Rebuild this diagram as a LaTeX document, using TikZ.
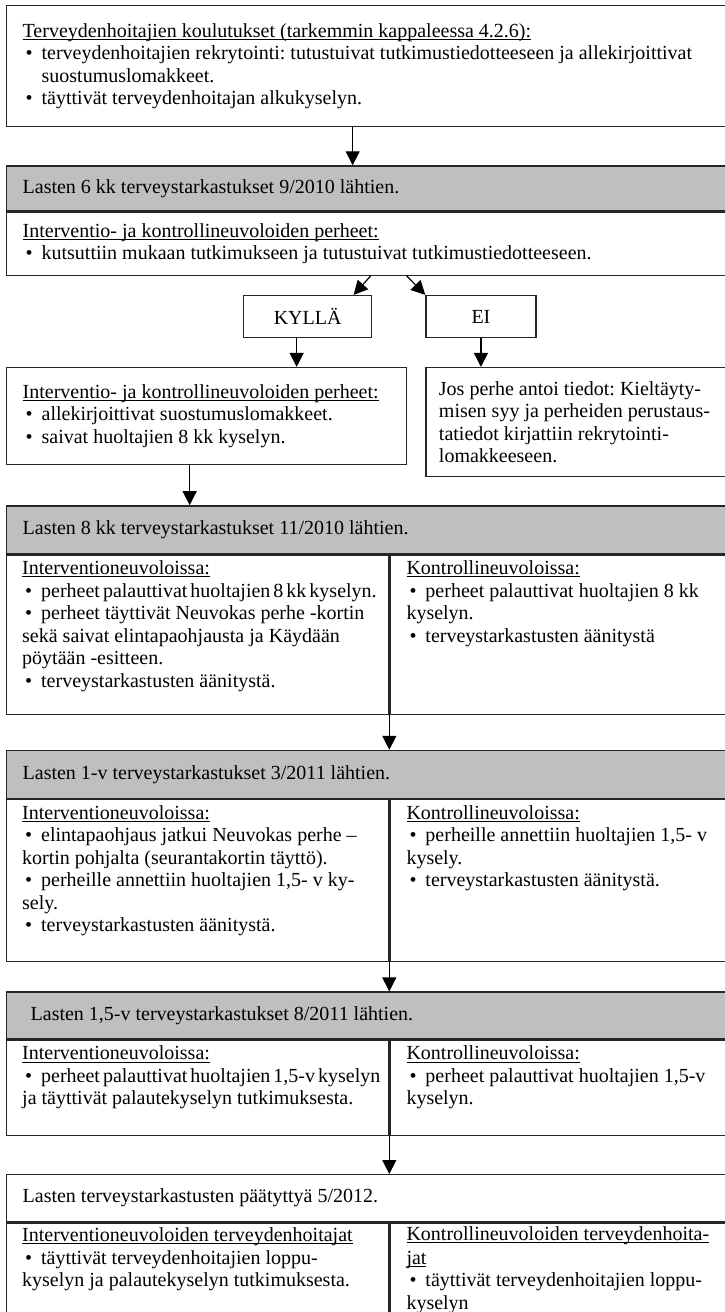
\documentclass[tikz,border=0pt]{standalone}
\usepackage{fontspec}
\setmainfont{Liberation Serif}
\usetikzlibrary{positioning, arrows.meta}

\newcommand{\bodyfont}{\fontsize{20}{22.5}\selectfont\frenchspacing}
\newcommand{\itm}{\makebox[19pt][l]{\hspace{3pt}\textbullet}}
\newcommand{\hang}{\hspace*{19pt}}
\newcommand{\uln}[1]{\leavevmode\setbox0\hbox{#1}\rlap{\rule[-2.6pt]{\wd0}{0.9pt}}\box0}
\newcommand{\squeeze}[1]{{\spaceskip=3pt plus 1pt\relax #1}}

\begin{document}
\begin{tikzpicture}[x=1pt, y=1pt,
    box/.style = {draw=black!85, line width=1.3pt, anchor=north west, align=flush left, inner xsep=16pt, inner ysep=0pt, font=\bodyfont},
    head/.style = {box, fill=gray!50, text width=722pt, minimum height=48pt},
    choice/.style = {draw=black!85, line width=1.3pt, anchor=north west, minimum height=42pt, align=center, font=\bodyfont},
    frame/.style = {draw=black!85, line width=1.3pt, anchor=north west, inner sep=0pt},
    coltext/.style = {anchor=north west, inner sep=0pt, text width=380pt, text height=14pt, align=flush left, font=\bodyfont},
    ctrltext/.style = {coltext, text width=315pt},
    arrow/.style = {-{Triangle[length=14pt, width=14pt]}, line width=1.2pt}
  ]
  \useasboundingbox (0,0) rectangle (725,-1312);
  \clip (0,0) rectangle (725,-1312);

  % koulutukset
  \node[box, text width=722pt, text height=14pt, text depth=72pt, minimum height=121pt] (koul) at (6,-5)
    {\uln{Terveydenhoitajien koulutukset (tarkemmin kappaleessa 4.2.6):}\\
     \itm terveydenhoitajien rekrytointi: tutustuivat tutkimustiedotteeseen ja allekirjoittivat\\
     \hang suostumuslomakkeet.\\
     \itm täyttivät terveydenhoitajan alkukyselyn.};

  % 6 kk
  \node[head, minimum height=45pt, below=38pt of koul.south west, anchor=north west] (hd6) {Lasten 6 kk terveystarkastukset 9/2010 lähtien.};
  \node[box, text width=722pt, minimum height=63pt, below=0pt of hd6.south west, anchor=north west] (invite)
    {\uln{Interventio- ja kontrollineuvoloiden perheet:}\\
     \itm kutsuttiin mukaan tutkimukseen ja tutustuivat tutkimustiedotteeseen.};
  \node[choice, minimum width=128pt, below right=19pt and 237pt of invite.south west, anchor=north west] (kylla) {KYLLÄ};
  \node[choice, minimum width=110pt, right=53pt of kylla.north east, anchor=north west] (ei) {EI};
  \node[box, text width=368pt, minimum height=97pt, below=91pt of invite.south west, anchor=north west] (consent)
    {\uln{Interventio- ja kontrollineuvoloiden perheet:}\\
     \itm allekirjoittivat suostumuslomakkeet.\\
     \itm saivat huoltajien 8 kk kyselyn.};
  \node[box, inner xsep=13pt, text width=310pt, minimum height=109pt, right=18pt of consent.north east, anchor=north west] (refuse)
    {Jos perhe antoi tiedot: Kieltäyty-\\
     misen syy ja perheiden perustaus-\\
     tatiedot kirjattiin rekrytointi-\\
     lomakkeeseen.};

  % 8 kk
  \node[head, below=40pt of consent.south west, anchor=north west] (hd8) {Lasten 8 kk terveystarkastukset 11/2010 lähtien.};
  \node[frame, minimum width=382pt, minimum height=159pt, below=0pt of hd8.south west, anchor=north west] (intv8) {};
  \node[frame, minimum width=372pt, minimum height=159pt] (ctrl8) at (intv8.north east) {};
  \node[coltext, below right=6pt and 16pt of intv8.north west] (intv8txt)
    {\uln{Interventioneuvoloissa:}\\
     \itm \squeeze{perheet palauttivat huoltajien 8 kk kyselyn.}\\
     \itm perheet täyttivät Neuvokas perhe -kortin\\
     sekä saivat elintapaohjausta ja Käydään\\
     pöytään -esitteen.\\
     \itm terveystarkastusten äänitystä.};
  \node[ctrltext, below right=6pt and 17pt of ctrl8.north west] (ctrl8txt)
    {\uln{Kontrollineuvoloissa:}\\
     \itm perheet palauttivat huoltajien 8 kk\\
     kyselyn.\\
     \itm terveystarkastusten äänitystä};

  % 1-v
  \node[head, below=35pt of intv8.south west, anchor=north west] (hd12) {Lasten 1-v terveystarkastukset 3/2011 lähtien.};
  \node[frame, minimum width=382pt, minimum height=162pt, below=0pt of hd12.south west, anchor=north west] (intv12) {};
  \node[frame, minimum width=372pt, minimum height=162pt] (ctrl12) at (intv12.north east) {};
  \node[coltext, below right=6pt and 16pt of intv12.north west] (intv12txt)
    {\uln{Interventioneuvoloissa:}\\
     \itm elintapaohjaus jatkui Neuvokas perhe –\\
     kortin pohjalta (seurantakortin täyttö).\\
     \itm perheille annettiin huoltajien 1,5- v ky-\\
     sely.\\
     \itm terveystarkastusten äänitystä.};
  \node[ctrltext, below right=6pt and 17pt of ctrl12.north west] (ctrl12txt)
    {\uln{Kontrollineuvoloissa:}\\
     \itm perheille annettiin huoltajien 1,5- v\\
     kysely.\\
     \itm terveystarkastusten äänitystä.};

  % 1,5-v
  \node[head, minimum height=47pt, below=29pt of intv12.south west, anchor=north west] (hd18) {\hspace*{8pt}Lasten 1,5-v terveystarkastukset 8/2011 lähtien.};
  \node[frame, minimum width=382pt, minimum height=95pt, below=0pt of hd18.south west, anchor=north west] (intv18) {};
  \node[frame, minimum width=372pt, minimum height=95pt] (ctrl18) at (intv18.north east) {};
  \node[coltext, below right=6pt and 16pt of intv18.north west] (intv18txt)
    {\uln{Interventioneuvoloissa:}\\
     \itm \squeeze{perheet palauttivat huoltajien 1,5-v kyselyn}\\
     ja täyttivät palautekyselyn tutkimuksesta.};
  \node[ctrltext, below right=6pt and 17pt of ctrl18.north west] (ctrl18txt)
    {\uln{Kontrollineuvoloissa:}\\
     \itm perheet palauttivat huoltajien 1,5-v\\
     kyselyn.};

  % loppu
  \node[box, text width=722pt, minimum height=47pt, below=38pt of intv18.south west, anchor=north west] (hdEnd) {Lasten terveystarkastusten päätyttyä 5/2012.};
  \node[frame, minimum width=382pt, minimum height=140pt, below=0pt of hdEnd.south west, anchor=north west] (intvEnd) {};
  \node[frame, minimum width=372pt, minimum height=140pt] (ctrlEnd) at (intvEnd.north east) {};
  \node[coltext, below right=5pt and 16pt of intvEnd.north west] (intvEndtxt)
    {\uln{Interventioneuvoloiden terveydenhoitajat}\\
     \itm täyttivät terveydenhoitajien loppu-\\
     kyselyn ja palautekyselyn tutkimuksesta.};
  \node[ctrltext, below right=4pt and 17pt of ctrlEnd.north west] (ctrlEndtxt)
    {\uln{Kontrollineuvoloiden terveydenhoita-}\\[1pt]
     \uln{jat}\\
     \itm täyttivät terveydenhoitajien loppu-\\
     kyselyn};

  \draw[arrow] ([xshift=-31pt]koul.south) -- ([xshift=-31pt]koul.south |- hd6.north);
  \draw[arrow] ([xshift=-13pt]invite.south) -- ([xshift=46pt]kylla.north);
  \draw[arrow] ([xshift=23pt]invite.south) -- (ei.north west);
  \draw[arrow] ([xshift=-11pt]kylla.south) -- ([xshift=-11pt]kylla.south |- consent.north);
  \draw[arrow] (ei.south) -- (ei.south |- refuse.north);
  \draw[arrow] ([xshift=-17pt]consent.south) -- ([xshift=-17pt]consent.south |- hd8.north);
  \draw[arrow] (intv8.south east) -- (intv8.south east |- hd12.north);
  \draw[arrow] (intv12.south east) -- (intv12.south east |- hd18.north);
  \draw[arrow] (intv18.south east) -- (intv18.south east |- hdEnd.north);
\end{tikzpicture}
\end{document}
